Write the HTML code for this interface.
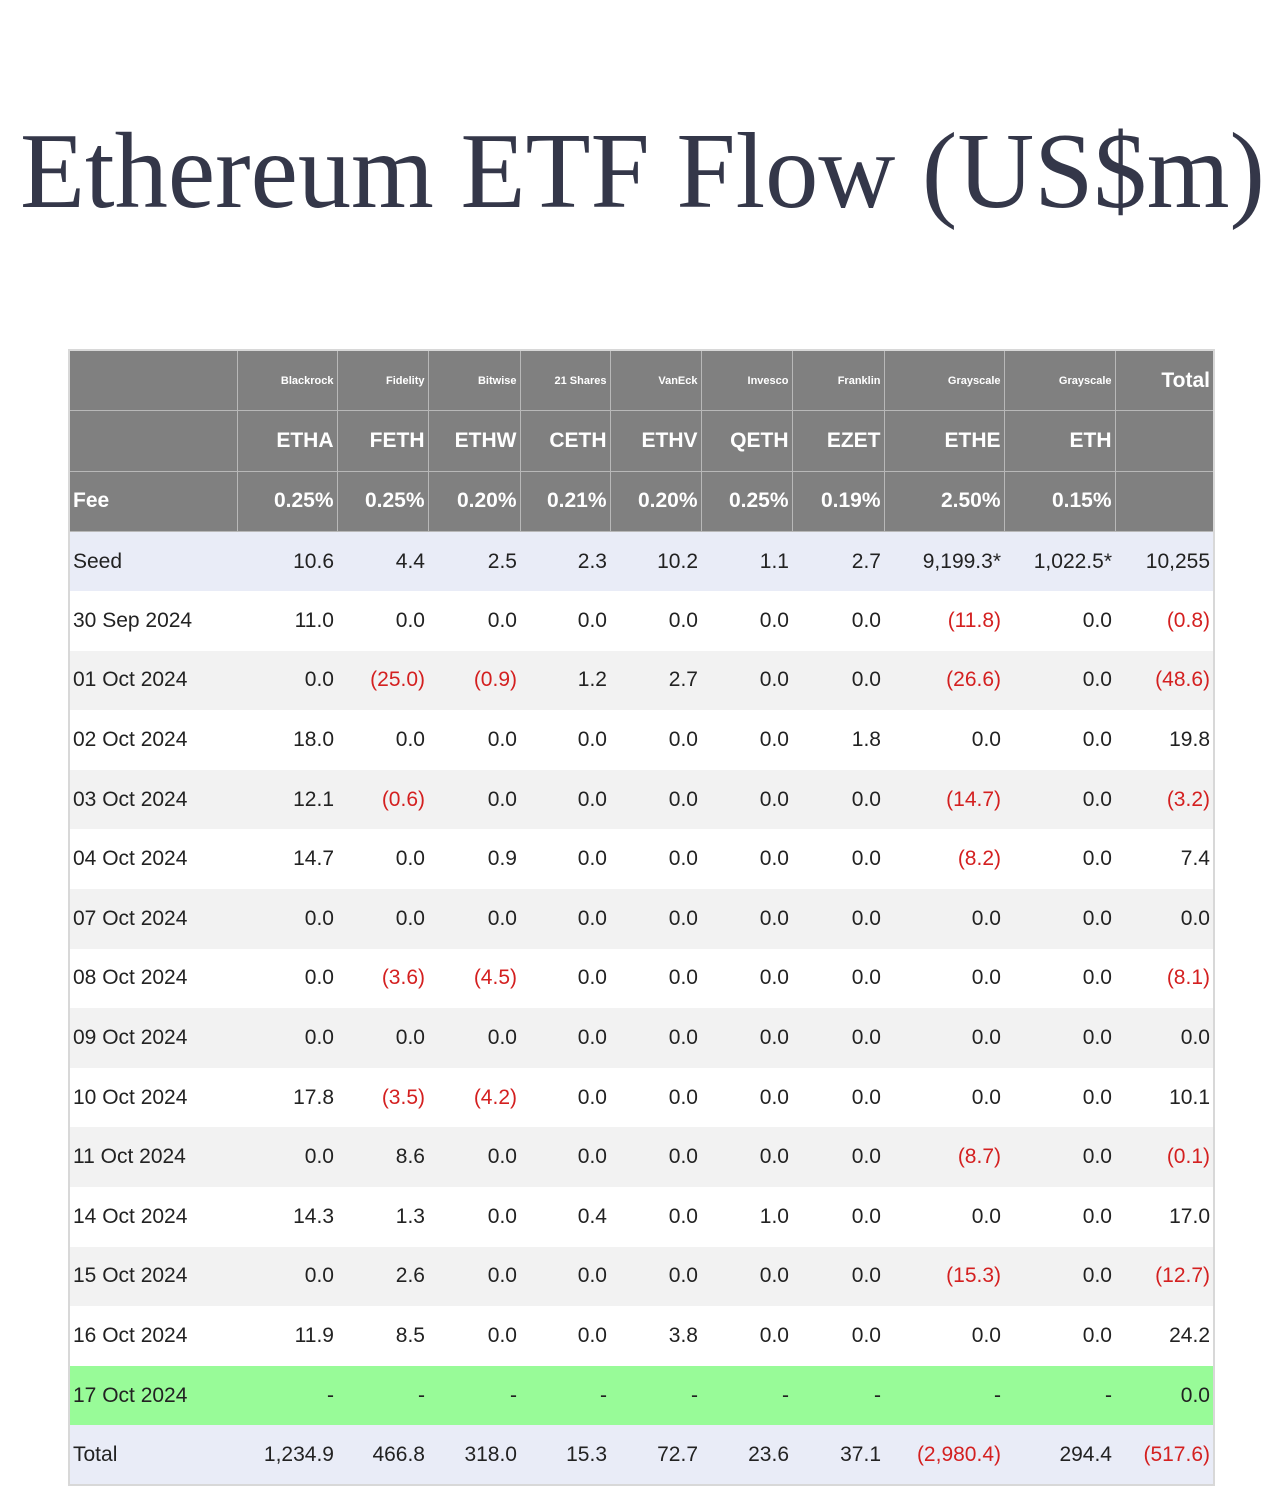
<!DOCTYPE html>
<html><head><meta charset="utf-8"><style>
body{margin:0;width:1280px;height:1484px;background:#fff;overflow:hidden;font-family:"Liberation Sans",sans-serif;}
#title{position:absolute;left:0;top:0;}
table{position:absolute;left:68px;top:349px;border-collapse:collapse;table-layout:fixed;border:2px solid #d8d8d8;}
td{padding:0 3px;text-align:right;font-size:21px;color:#222;height:59.6px;box-sizing:border-box;white-space:nowrap;overflow:hidden;}
tr.h td{background:#808080;color:#fff;font-weight:bold;border:1px solid #b8b8b8;height:60.5px;}
tr.h td.s{font-size:11px;}
tr.h td.t{font-size:21px;vertical-align:top;padding-top:18px;}
td.l{text-align:left;}
tr.a td{background:#fff;} tr.b td{background:#f2f2f2;}
tr.c td{background:#e9ecf7;} tr.g td{background:#98fb98;}
.n{color:#d42020;}
</style></head><body>
<svg id="title" width="1280" height="260"><text x="20" y="207" textLength="1245" lengthAdjust="spacingAndGlyphs" font-family="Liberation Serif, serif" font-size="108" fill="#343749">Ethereum ETF Flow (US$m)</text></svg>
<table id="tbl">
<colgroup><col style="width:168px"><col style="width:100px"><col style="width:91px"><col style="width:92px"><col style="width:90px"><col style="width:91px"><col style="width:91px"><col style="width:92px"><col style="width:120px"><col style="width:111px"><col style="width:99px"></colgroup>
<tr class="h"><td></td><td class="s">Blackrock</td><td class="s">Fidelity</td><td class="s">Bitwise</td><td class="s">21 Shares</td><td class="s">VanEck</td><td class="s">Invesco</td><td class="s">Franklin</td><td class="s">Grayscale</td><td class="s">Grayscale</td><td class="t">Total</td></tr>
<tr class="h"><td></td><td>ETHA</td><td>FETH</td><td>ETHW</td><td>CETH</td><td>ETHV</td><td>QETH</td><td>EZET</td><td>ETHE</td><td>ETH</td><td></td></tr>
<tr class="h"><td class="l">Fee</td><td>0.25%</td><td>0.25%</td><td>0.20%</td><td>0.21%</td><td>0.20%</td><td>0.25%</td><td>0.19%</td><td>2.50%</td><td>0.15%</td><td></td></tr>
</table>
<script>
const dates=["Seed","30 Sep 2024","01 Oct 2024","02 Oct 2024","03 Oct 2024","04 Oct 2024","07 Oct 2024","08 Oct 2024","09 Oct 2024","10 Oct 2024","11 Oct 2024","14 Oct 2024","15 Oct 2024","16 Oct 2024","17 Oct 2024","Total"];
const values=[
["10.6","4.4","2.5","2.3","10.2","1.1","2.7","9,199.3*","1,022.5*","10,255"],
["11.0","0.0","0.0","0.0","0.0","0.0","0.0","(11.8)","0.0","(0.8)"],
["0.0","(25.0)","(0.9)","1.2","2.7","0.0","0.0","(26.6)","0.0","(48.6)"],
["18.0","0.0","0.0","0.0","0.0","0.0","1.8","0.0","0.0","19.8"],
["12.1","(0.6)","0.0","0.0","0.0","0.0","0.0","(14.7)","0.0","(3.2)"],
["14.7","0.0","0.9","0.0","0.0","0.0","0.0","(8.2)","0.0","7.4"],
["0.0","0.0","0.0","0.0","0.0","0.0","0.0","0.0","0.0","0.0"],
["0.0","(3.6)","(4.5)","0.0","0.0","0.0","0.0","0.0","0.0","(8.1)"],
["0.0","0.0","0.0","0.0","0.0","0.0","0.0","0.0","0.0","0.0"],
["17.8","(3.5)","(4.2)","0.0","0.0","0.0","0.0","0.0","0.0","10.1"],
["0.0","8.6","0.0","0.0","0.0","0.0","0.0","(8.7)","0.0","(0.1)"],
["14.3","1.3","0.0","0.4","0.0","1.0","0.0","0.0","0.0","17.0"],
["0.0","2.6","0.0","0.0","0.0","0.0","0.0","(15.3)","0.0","(12.7)"],
["11.9","8.5","0.0","0.0","3.8","0.0","0.0","0.0","0.0","24.2"],
["-","-","-","-","-","-","-","-","-","0.0"],
["1,234.9","466.8","318.0","15.3","72.7","23.6","37.1","(2,980.4)","294.4","(517.6)"]];
const tbl=document.getElementById('tbl');
dates.forEach((d,i)=>{
  const tr=document.createElement('tr');
  
  
  tr.className=(i==0||i==dates.length-1)?'c':(d=="17 Oct 2024"?'g':(i%2?'a':'b'));
  const td=document.createElement('td');td.className='l';td.textContent=d;
  
  
  tr.appendChild(td);
  values[i].forEach(v=>{
    const c=document.createElement('td');c.textContent=v;
    if(v.startsWith('('))c.className='n';
    
    
    tr.appendChild(c);
  });
  tbl.appendChild(tr);
});
</script>
</body></html>
